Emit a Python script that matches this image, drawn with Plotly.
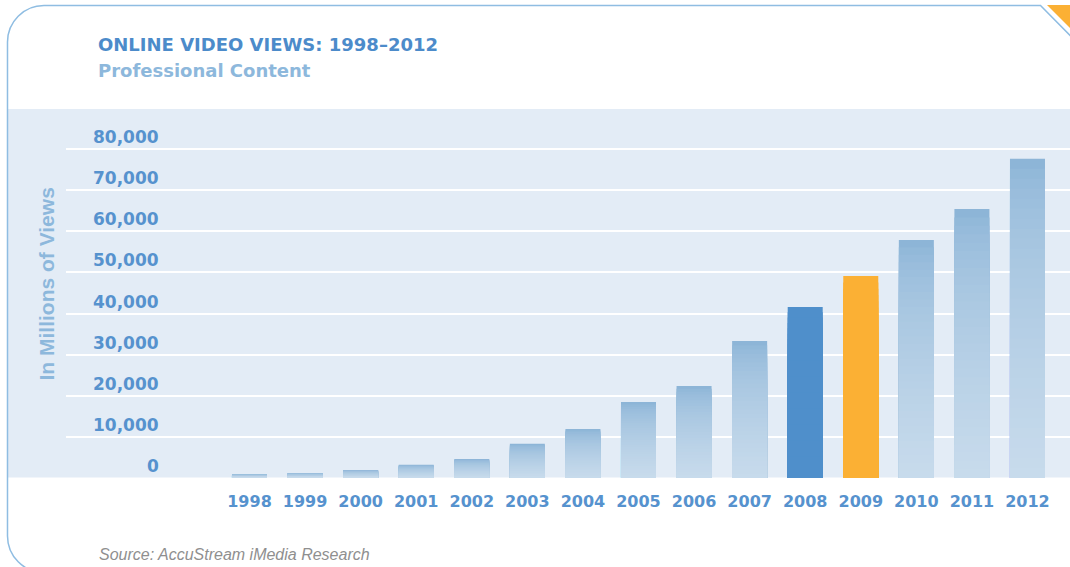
import plotly.graph_objects as go

# ---------------- data ----------------
YEARS = ["1998", "1999", "2000", "2001", "2002", "2003", "2004", "2005",
         "2006", "2007", "2008", "2009", "2010", "2011", "2012"]
VIEWS = [970, 1200, 1950, 3200, 4600, 8300, 11900, 18500,
         22400, 33300, 41600, 49100, 57900, 65400, 77600]
Y_TICKS = [0, 10000, 20000, 30000, 40000, 50000, 60000, 70000, 80000]
Y_TICK_LABELS = ["0", "10,000", "20,000", "30,000", "40,000",
                 "50,000", "60,000", "70,000", "80,000"]
HIGHLIGHT = {"2008": "#4F8FCB", "2009": "#FBB034"}

TITLE = "ONLINE VIDEO VIEWS: 1998\u20132012"
SUBTITLE = "Professional Content"
Y_TITLE = "In Millions of Views"
SOURCE = "Source: AccuStream iMedia Research"

# ---------------- styling ----------------
W, H = 1070, 567
L, R, T, B = 66, 0, 109, 89
BAND = "#E3ECF6"
FRAME = "#8FBDE2"
TITLE_C = "#4C8BCA"
LIGHT_C = "#8DB8DC"
TICK_C = "#5692CE"
GRAD_TOP = (0x86, 0xB1, 0xD5)
GRAD_BOT = (0xC8, 0xDB, 0xEC)


def X(px):
    return (px - L) / (W - L - R)


def Y(py):
    return (H - B - py) / (H - T - B)


def P(px, py):
    return f"{X(px):.5f},{Y(py):.5f}"


fig = go.Figure()

# gradient bars: overlaid slices, darkest at the top
N = 32
for k in range(N):
    t = (k + 0.5) / N
    f = t ** 0.55
    rgb = tuple(round(a + (b - a) * f) for a, b in zip(GRAD_TOP, GRAD_BOT))
    col = "rgb(%d,%d,%d)" % rgb
    frac = 1 - k / N
    fig.add_trace(go.Bar(
        x=YEARS,
        y=[v * frac for v in VIEWS],
        width=0.63,
        marker=dict(color=[HIGHLIGHT.get(yr, col) for yr in YEARS],
                    line=dict(width=0)),
        hoverinfo="skip" if k else "x+y",
        showlegend=False,
    ))

shapes = [
    # light blue band behind the plot
    dict(type="rect", xref="paper", yref="paper",
         x0=X(8), x1=X(1072), y0=Y(477.5), y1=Y(109),
         fillcolor=BAND, line=dict(width=0), layer="below"),
    # rounded frame
    dict(type="path", xref="paper", yref="paper", layer="above",
         path=("M " + P(1074, 39.5) + " L " + P(1040.5, 5.5) + " L " + P(44, 5.5)
               + " C " + P(23.8, 5.5) + " " + P(7.5, 21.8) + " " + P(7.5, 42)
               + " L " + P(7.5, 536)
               + " C " + P(7.5, 556.2) + " " + P(23.8, 572.5) + " " + P(44, 572.5)),
         line=dict(color=FRAME, width=1.5)),
    # orange corner triangle
    dict(type="path", xref="paper", yref="paper", layer="above",
         path="M " + P(1047, 5) + " L " + P(1072, 5) + " L " + P(1072, 30) + " Z",
         fillcolor="#FBB034", line=dict(width=0)),
]

annotations = [
    dict(text=f"<b>{TITLE}</b>", xref="paper", yref="paper", x=X(96), y=Y(44),
         xanchor="left", yanchor="middle", showarrow=False,
         font=dict(family="DejaVu Sans", size=18, color=TITLE_C)),
    dict(text=f"<b>{SUBTITLE}</b>", xref="paper", yref="paper", x=X(96), y=Y(70),
         xanchor="left", yanchor="middle", showarrow=False,
         font=dict(family="DejaVu Sans", size=18, color=LIGHT_C)),
    dict(text=f"<b>{Y_TITLE}</b>", xref="paper", yref="paper", x=X(46), y=Y(284.5),
         xanchor="center", yanchor="middle", showarrow=False, textangle=-90,
         font=dict(family="Liberation Sans", size=21, color=LIGHT_C)),
    dict(text=f"<i>{SOURCE}</i>", xref="paper", yref="paper", x=X(97), y=Y(554),
         xanchor="left", yanchor="middle", showarrow=False,
         font=dict(family="Liberation Sans", size=16, color="#8F8F8F")),
]
for v, lab in zip(Y_TICKS, Y_TICK_LABELS):
    annotations.append(dict(
        text=f"<b>{lab}</b>", xref="paper", yref="y", x=X(161), y=v,
        xanchor="right", yanchor="middle", yshift=12, showarrow=False,
        font=dict(family="DejaVu Sans", size=17, color=TICK_C)))

y_top = 80000 * (H - B - T) / (H - B - 149)

fig.update_layout(
    width=W, height=H,
    margin=dict(l=L, r=R, t=T, b=B, pad=0),
    paper_bgcolor="white",
    plot_bgcolor="rgba(0,0,0,0)",
    barmode="overlay",
    showlegend=False,
    shapes=shapes,
    annotations=annotations,
    xaxis=dict(type="category", range=[-3.302, 14.765],
               showgrid=False, zeroline=False, showline=False, ticks="",
               ticklabelstandoff=12,
               tickfont=dict(family="DejaVu Sans", size=16, color=TICK_C,
                             weight="bold")),
    yaxis=dict(range=[0, y_top], tickvals=Y_TICKS, showticklabels=False,
               showgrid=True, gridcolor="white", gridwidth=2,
               zeroline=False, showline=False, ticks=""),
)

fig.write_html("out.html",
               config={"displayModeBar": False},
               post_script="document.body.style.margin='0px';"
                           "document.body.style.overflow='hidden';")
